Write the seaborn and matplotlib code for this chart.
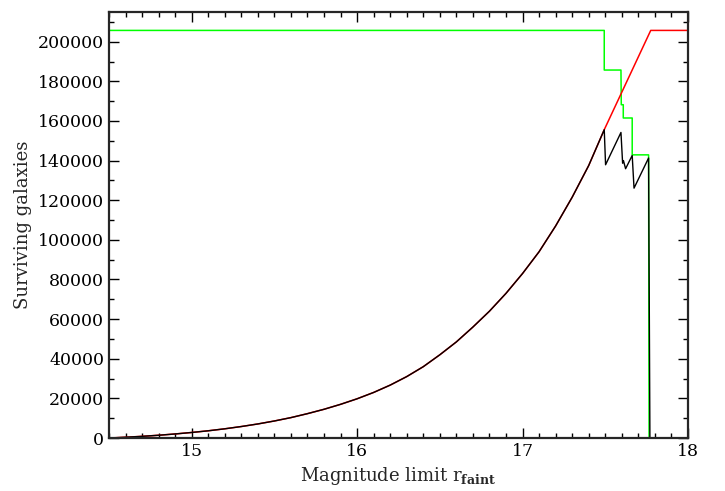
import numpy as np
import pandas as pd
import seaborn as sns
import matplotlib
matplotlib.use("Agg")
import matplotlib.pyplot as plt
from matplotlib.ticker import MultipleLocator, FormatStrFormatter

# smooth part (shared by black and red curves)
mag_smooth = [14.5, 14.6, 14.7, 14.8, 14.9, 15.0, 15.1, 15.2, 15.3, 15.4, 15.5,
              15.6, 15.7, 15.8, 15.9, 16.0, 16.1, 16.2, 16.3, 16.4, 16.5,
              16.6, 16.7, 16.8, 16.9, 17.0, 17.1, 17.2, 17.3, 17.4, 17.494]
n_smooth = [0, 400, 850, 1400, 2050, 2800, 3650, 4650, 5800, 7100, 8600,
            10300, 12300, 14500, 17000, 19800, 23000, 26700, 31000, 36000, 42000,
            48500, 56000, 64000, 73000, 83000, 94000, 107000, 121500, 137500, 155600]

# sawtooth tail of the surviving galaxies (black)
mag_tail = [17.502, 17.595, 17.605, 17.610, 17.623, 17.663, 17.674, 17.762, 17.770, 18.0]
n_tail = [137900, 154200, 138700, 140000, 135900, 142600, 126100, 141300, 0, 0]

# red: ideal counts
mag_red_tail = [17.775, 18.0]
n_red_tail = [205700, 205700]

# green: step curve
mag_green = [14.5, 17.494, 17.494, 17.595, 17.597, 17.609, 17.609, 17.663, 17.663,
             17.762, 17.765, 18.0]
n_green = [205700, 205700, 185700, 185700, 168200, 168200, 161500, 161500, 142900,
           142900, 0, 0]

black = pd.DataFrame({"mag": mag_smooth + mag_tail, "n": n_smooth + n_tail})
red = pd.DataFrame({"mag": mag_smooth + mag_red_tail, "n": n_smooth + n_red_tail})
green = pd.DataFrame({"mag": mag_green, "n": n_green})

sns.set_style("ticks")
plt.rcParams["font.family"] = ["DejaVu Serif"]
plt.rcParams["mathtext.fontset"] = "dejavuserif"

fig = plt.figure(figsize=(7.25, 4.91), dpi=100)
ax = fig.add_axes([0.1503, 0.1079, 0.7986, 0.8677])

sns.lineplot(data=green, x="mag", y="n", color="#00ff00", lw=1.1, sort=False, estimator=None, ax=ax)
sns.lineplot(data=red, x="mag", y="n", color="#ff0000", lw=1.1, sort=False, estimator=None, ax=ax)
sns.lineplot(data=black, x="mag", y="n", color="black", lw=1.0, sort=False, estimator=None, ax=ax)

ax.set_xlim(14.5, 18.0)
ax.set_ylim(0, 215000)
ax.xaxis.set_major_locator(MultipleLocator(1))
ax.xaxis.set_minor_locator(MultipleLocator(0.1))
ax.yaxis.set_major_locator(MultipleLocator(20000))
ax.yaxis.set_minor_locator(MultipleLocator(10000))
ax.yaxis.set_major_formatter(FormatStrFormatter("%d"))
ax.xaxis.set_major_formatter(FormatStrFormatter("%d"))

ax.tick_params(which="both", direction="in", top=True, right=True, width=1.0,
               labelsize=12.5, colors="black")
ax.tick_params(which="major", length=7)
ax.tick_params(which="minor", length=3.5)
for s in ax.spines.values():
    s.set_linewidth(1.6)
    s.set_visible(True)

ax.set_xlabel(r"Magnitude limit r$_{\mathbf{faint}}$", fontsize=13)
ax.set_ylabel("Surviving galaxies", fontsize=13, labelpad=4)

fig.savefig("out.png", dpi=100)
